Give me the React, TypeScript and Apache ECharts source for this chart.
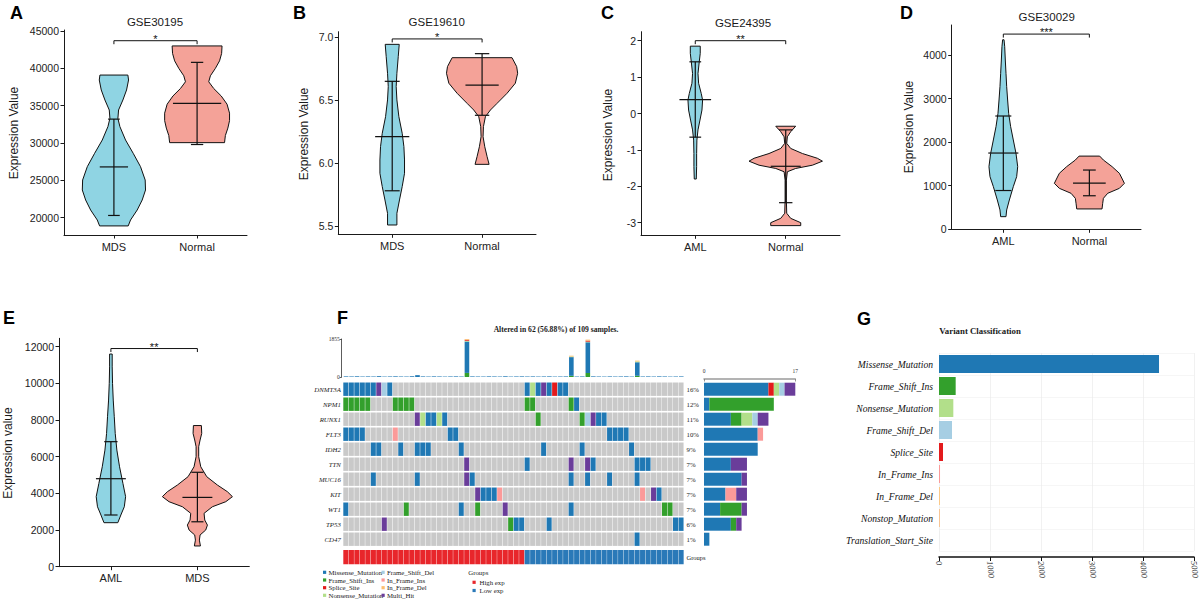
import React, { useEffect, useRef } from 'react';
import * as echarts from 'echarts';

// ================= DATA =================
// ---- Violin panels (outline = [value, half-width in category units]; stats = [lower, mean, upper]) ----
const titleA = 'GSE30195';
const catsA = ['MDS', 'Normal'];
const ticksA = [20000, 25000, 30000, 35000, 40000, 45000];
const outlineA1 = [[39100,0.168],[38440,0.176],[37100,0.152],[35760,0.108],[34420,0.056],[33300,0.048],[32190,0.072],[30400,0.14],[28620,0.232],[26830,0.32],[25050,0.376],[23710,0.38],[22370,0.34],[21030,0.28],[19690,0.2],[18900,0.172]];
const statsA1 = [20300, 26800, 33200];
const outlineA2 = [[43000,0.30],[42000,0.295],[41000,0.27],[40000,0.22],[39000,0.16],[38200,0.14],[37300,0.2],[36300,0.29],[35200,0.36],[34000,0.39],[33000,0.39],[32000,0.37],[31000,0.34],[30050,0.33]];
const statsA2 = [29800, 35300, 40800];
const sigA = ['*', 43700];

const titleB = 'GSE19610';
const catsB = ['MDS', 'Normal'];
const ticksB = [5.5, 6.0, 6.5, 7.0];
const outlineB1 = [[6.944,0.078],[6.846,0.067],[6.714,0.052],[6.608,0.044],[6.502,0.052],[6.369,0.074],[6.237,0.111],[6.131,0.13],[6.025,0.137],[5.919,0.137],[5.813,0.111],[5.707,0.081],[5.601,0.052],[5.508,0.052]];
const statsB1 = [5.78, 6.21, 6.65];
const outlineB2 = [[6.838,0.333],[6.767,0.385],[6.714,0.396],[6.635,0.37],[6.555,0.278],[6.475,0.167],[6.422,0.093],[6.369,0.037],[6.29,0.015],[6.21,0.011],[6.13,0.03],[6.051,0.056],[5.99,0.078]];
const statsB2 = [6.38, 6.62, 6.87];
const sigB = ['*', 6.987];

const titleC = 'GSE24395';
const catsC = ['AML', 'Normal'];
const ticksC = [-3, -2, -1, 0, 1, 2];
const outlineC1 = [[1.85,0.055],[1.652,0.055],[1.42,0.044],[1.10,0.03],[0.83,0.037],[0.55,0.066],[0.37,0.081],[0.095,0.074],[-0.18,0.052],[-0.45,0.03],[-0.73,0.018],[-1.10,0.015],[-1.46,0.015],[-1.80,0.011]];
const statsC1 = [-0.65, 0.38, 1.42];
const outlineC2 = [[-0.35,0.11],[-0.50,0.055],[-0.64,0.018],[-0.82,0.011],[-0.96,0.055],[-1.10,0.185],[-1.23,0.35],[-1.31,0.406],[-1.42,0.295],[-1.51,0.11],[-1.60,0.018],[-1.83,0.007],[-2.38,0.007],[-2.74,0.011],[-2.88,0.055],[-3.0,0.166],[-3.08,0.166]];
const statsC2 = [-2.45, -1.45, -0.45];
const sigC = ['**', 2.0];

const titleD = 'GSE30029';
const catsD = ['AML', 'Normal'];
const ticksD = [0, 1000, 2000, 3000, 4000];
const outlineD1 = [[4350,0.008],[4190,0.016],[3885,0.023],[3580,0.031],[3273,0.039],[2967,0.05],[2661,0.062],[2355,0.085],[2050,0.116],[1744,0.147],[1438,0.167],[1208,0.155],[979,0.116],[673,0.07],[444,0.039],[290,0.031]];
const statsD1 = [890, 1750, 2600];
const outlineD2 = [[1680,0.12],[1590,0.163],[1438,0.264],[1285,0.349],[1132,0.388],[1055,0.407],[940,0.349],[826,0.213],[711,0.163],[597,0.155],[467,0.147]];
const statsD2 = [770, 1060, 1360];
const sigD = ['***', 4480];

const catsE = ['AML', 'MDS'];
const ticksE = [0, 2000, 4000, 6000, 8000, 10000, 12000];
const outlineE1 = [[11600,0.015],[10900,0.015],[10000,0.019],[9090,0.027],[8180,0.039],[7270,0.05],[6360,0.069],[5450,0.1],[4545,0.139],[3820,0.17],[3270,0.155],[2820,0.115],[2400,0.08]];
const statsE1 = [2820, 4800, 6820];
const outlineE2 = [[7700,0.046],[7270,0.05],[6910,0.031],[6545,0.015],[6000,0.015],[5450,0.039],[4910,0.108],[4455,0.231],[4090,0.347],[3820,0.405],[3545,0.328],[3270,0.173],[2910,0.077],[2545,0.085],[2270,0.116],[2000,0.096],[1730,0.031],[1450,0.023],[1130,0.035]];
const statsE2 = [2450, 3780, 5150];
const sigE = ['**', 11900];

// ---- Panel F: oncoplot ----
const oncoTitle = 'Altered in 62 (56.88%) of 109 samples.';
const totalSamples = 109;
const nColumns = 62;
const oncoGenes = ['DNMT3A', 'NPM1', 'RUNX1', 'FLT3', 'IDH2', 'TTN', 'MUC16', 'KIT', 'WT1', 'TP53', 'CD47'];
const typeKeys = ['Mis', 'FSI', 'Spl', 'Non', 'FSD', 'IFI', 'IFD', 'Multi'];
const typeNames = ['Missense_Mutation', 'Frame_Shift_Ins', 'Splice_Site', 'Nonsense_Mutation', 'Frame_Shift_Del', 'In_Frame_Ins', 'In_Frame_Del', 'Multi_Hit'];
const mutDNMT3A = [[0,'Mis'],[1,'Mis'],[2,'Mis'],[3,'Mis'],[4,'Mis'],[5,'Mis'],[6,'Multi'],[7,'FSD'],[8,'Mis'],[33,'Mis'],[34,'Non'],[35,'Mis'],[36,'Multi'],[37,'Mis'],[38,'Spl'],[39,'Mis'],[40,'Mis']];
const mutNPM1 = [[0,'FSI'],[1,'FSI'],[2,'FSI'],[3,'FSI'],[4,'FSI'],[9,'FSI'],[10,'FSI'],[11,'FSI'],[12,'FSI'],[33,'FSI'],[34,'FSI'],[41,'FSI'],[42,'Mis']];
const mutRUNX1 = [[13,'Multi'],[14,'Non'],[15,'Mis'],[16,'Mis'],[17,'Non'],[18,'Mis'],[35,'FSI'],[43,'FSI'],[44,'FSD'],[45,'Multi'],[46,'Mis'],[47,'Mis']];
const mutFLT3 = [[0,'Mis'],[1,'Mis'],[2,'Mis'],[3,'Mis'],[9,'IFI'],[19,'Mis'],[20,'Mis'],[48,'Mis'],[49,'Mis'],[50,'Mis'],[51,'Mis']];
const mutIDH2 = [[5,'Mis'],[6,'Mis'],[10,'Mis'],[13,'Mis'],[14,'Mis'],[15,'Mis'],[21,'Mis'],[36,'Mis'],[43,'Mis'],[52,'Mis']];
const mutTTN = [[22,'Multi'],[33,'Mis'],[41,'Multi'],[44,'Multi'],[45,'Mis'],[53,'Mis'],[54,'Mis'],[55,'Mis']];
const mutMUC16 = [[5,'Mis'],[13,'Mis'],[22,'Multi'],[23,'Mis'],[41,'Mis'],[44,'Mis'],[48,'Mis'],[53,'Mis']];
const mutKIT = [[24,'Multi'],[25,'Mis'],[26,'Mis'],[27,'Mis'],[28,'IFI'],[54,'IFI'],[56,'Multi'],[57,'Mis']];
const mutWT1 = [[0,'Mis'],[11,'FSI'],[21,'Mis'],[24,'FSI'],[29,'Multi'],[41,'Mis'],[58,'FSI'],[59,'FSI']];
const mutTP53 = [[7,'Multi'],[30,'FSI'],[31,'Mis'],[32,'Mis'],[37,'Mis'],[60,'Mis'],[61,'Mis']];
const mutCD47 = [[53,'Mis']];
const oncoMutations = [mutDNMT3A, mutNPM1, mutRUNX1, mutFLT3, mutIDH2, mutTTN, mutMUC16, mutKIT, mutWT1, mutTP53, mutCD47];
const groupNames = ['High exp', 'Low exp'];
const groupHighCount = 33;
const groupLowCount = 29;
// TMB (top bar) per column
const tmbMissense = [30,26,34,22,28,24,40,20,26,32, 24,22,36,90,28,22,30,26,20,26, 30,22,1530,28,24,22,30,26,22,34, 20,26,30,24,28,22,26,30,20,24, 28,910,22,26,1500,30,24,20,28,22, 26,30,20,660,24,28,22,30,26,20, 24,28];
const tmbFrameShiftIns = [[22,200],[41,60],[44,195],[53,60]];
const tmbNonsense = [[22,40],[41,30],[44,30],[53,40]];
const tmbSplice = [[22,45],[44,50]];
const tmbInFrameDel = [[22,40],[41,40],[44,50],[53,40]];
const tmbMax = 1855;
const geneBarMax = 17;

// ---- Panel G: variant classification ----
const variantClasses = ['Missense_Mutation', 'Frame_Shift_Ins', 'Nonsense_Mutation', 'Frame_Shift_Del', 'Splice_Site', 'In_Frame_Ins', 'In_Frame_Del', 'Nonstop_Mutation', 'Translation_Start_Site'];
const variantCounts = [4314, 327, 281, 255, 78, 20, 16, 14, 4];

// ================= STYLE / LAYOUT =================
const SANS = '"Liberation Sans", Arial, Helvetica, sans-serif';
const SERIF = '"Liberation Serif", "Times New Roman", serif';
const INK = '#1a1a1a';
const violinFill = ['#8FD4E3', '#F4A298'];
const typeColors = ['#1F78B4', '#33A02C', '#E31A1C', '#B2DF8A', '#A6CEE3', '#FB9A99', '#FDBF6F', '#6A3D9A'];
const groupColors = ['#E8262B', '#2A79B8'];
const variantColors = ['#1F78B4', '#33A02C', '#B2DF8A', '#A6CEE3', '#E31A1C', '#FB9A99', '#FDBF6F', '#F9B470', '#E3E3E3'];

const violinPanels = [
  { title: titleA, cats: catsA, ticks: ticksA, ylab: 'Expression Value', sig: sigA, violins: [[outlineA1, statsA1], [outlineA2, statsA2]], dec: 0 },
  { title: titleB, cats: catsB, ticks: ticksB, ylab: 'Expression Value', sig: sigB, violins: [[outlineB1, statsB1], [outlineB2, statsB2]], dec: 1 },
  { title: titleC, cats: catsC, ticks: ticksC, ylab: 'Expression Value', sig: sigC, violins: [[outlineC1, statsC1], [outlineC2, statsC2]], dec: 0 },
  { title: titleD, cats: catsD, ticks: ticksD, ylab: 'Expression Value', sig: sigD, violins: [[outlineD1, statsD1], [outlineD2, statsD2]], dec: 0 },
  { title: '', cats: catsE, ticks: ticksE, ylab: 'Expression value', sig: sigE, violins: [[outlineE1, statsE1], [outlineE2, statsE2]], dec: 0 },
];
const violinLayout = [
  { left: 64, right: 247, top: 30, bottom: 235, t1: [45000, 31], t2: [20000, 217.7], titleXY: [155, 22], ylabXY: [14, 133], bars: [[0.17, 0.07], [0.29, 0.074]] },
  { left: 338.3, right: 536, top: 31.7, bottom: 234.3, t1: [7.0, 37.3], t2: [5.5, 226], titleXY: [436.7, 21.7], ylabXY: [304, 134], bars: [[0.19, 0.083], [0.185, 0.08]] },
  { left: 641, right: 840, top: 31.7, bottom: 235.3, t1: [2, 40.7], t2: [-3, 222.7], titleXY: [743, 22.7], ylabXY: [608.3, 135], bars: [[0.175, 0.065], [0.166, 0.074]] },
  { left: 951.7, right: 1141, top: 25, bottom: 229.3, t1: [4000, 55], t2: [0, 229.3], titleXY: [1046.7, 16.7], ylabXY: [909, 127], bars: [[0.175, 0.093], [0.19, 0.074]] },
  { left: 59, right: 249.3, top: 338.3, bottom: 566.7, t1: [12000, 346.7], t2: [0, 566.7], titleXY: [0, 0], ylabXY: [8.3, 453], bars: [[0.173, 0.077], [0.173, 0.07]] },
];
const letters = [['A', 10, 13], ['B', 293, 13], ['C', 601, 13], ['D', 900, 13], ['E', 3, 318], ['F', 337, 318], ['G', 857, 319]];

function yRange(t1: number[], t2: number[], top: number, bottom: number) {
  const [v1, p1] = t1;
  const [v2, p2] = t2;
  const s = (p2 - p1) / (v1 - v2);
  return { max: v1 + (p1 - top) / s, min: v2 - (bottom - p2) / s };
}

function tstyle(text: string, font: string, align: string, va: string, fill = INK) {
  return { text, font, fill, textFill: fill, align, verticalAlign: va, textAlign: align, textVerticalAlign: va };
}

function txt(x: number, y: number, text: string, font: string, align = 'left', va = 'middle', rotation = 0, fill = INK) {
  return { type: 'text', x, y, rotation, style: tstyle(text, font, align, va, fill) };
}

function buildOption() {
  const grid: any[] = [];
  const xAxis: any[] = [];
  const yAxis: any[] = [];
  const series: any[] = [];
  const elements: any[] = [];

  // ---------- violin panels ----------
  violinPanels.forEach((P, g) => {
    const L = violinLayout[g];
    const { min, max } = yRange(L.t1, L.t2, L.top, L.bottom);
    grid.push({ left: L.left, top: L.top, width: L.right - L.left, height: L.bottom - L.top, outerBoundsMode: 'none', containLabel: false });
    xAxis.push({
      gridIndex: g, type: 'value', min: 0.4, max: 2.6, splitLine: { show: false },
      axisLine: { show: true, onZero: false, lineStyle: { color: INK, width: 1 } },
      axisTick: { show: true, customValues: [1, 2], length: 3.5, lineStyle: { color: INK, width: 1 } },
      axisLabel: { customValues: [1, 2], formatter: (v: number) => P.cats[Math.round(v) - 1], color: '#222', fontSize: 11, fontFamily: SANS, margin: 6 },
    });
    yAxis.push({
      gridIndex: g, type: 'value', min, max, splitLine: { show: false },
      axisLine: { show: true, onZero: false, lineStyle: { color: INK, width: 1 } },
      axisTick: { show: true, customValues: P.ticks, length: 3.5, lineStyle: { color: INK, width: 1 } },
      axisLabel: { customValues: P.ticks, formatter: (v: number) => v.toFixed(P.dec), color: '#222', fontSize: 10.5, fontFamily: SANS, margin: 5 },
    });
    series.push({
      type: 'custom', xAxisIndex: g, yAxisIndex: g, silent: true, clip: false,
      data: P.violins.map((_, i) => [i, 0]),
      renderItem: (params: any, api: any) => {
        const i = api.value(0) as number;
        const [outline, stats] = P.violins[i] as any;
        const cx = i + 1;
        const pts: number[][] = [];
        (outline as number[][]).forEach(([y, w]) => pts.push(api.coord([cx - w, y])));
        for (let k = outline.length - 1; k >= 0; k--) {
          const [y, w] = outline[k];
          pts.push(api.coord([cx + w, y]));
        }
        const [lo, mean, hi] = stats;
        const [mw, cw] = L.bars[i];
        const seg = (x1: number, x2: number, y1: number, y2: number) => {
          const a = api.coord([x1, y1]);
          const b = api.coord([x2, y2]);
          return { type: 'line', shape: { x1: a[0], y1: a[1], x2: b[0], y2: b[1] }, style: { stroke: '#111', lineWidth: 1.2 } };
        };
        return {
          type: 'group',
          children: [
            { type: 'polygon', shape: { points: pts }, style: { fill: violinFill[i], stroke: '#111', lineWidth: 1 } },
            seg(cx, cx, lo, hi),
            seg(cx - mw, cx + mw, mean, mean),
            seg(cx - cw, cx + cw, hi, hi),
            seg(cx - cw, cx + cw, lo, lo),
          ],
        };
      },
    });
    series.push({
      type: 'custom', xAxisIndex: g, yAxisIndex: g, silent: true, clip: false,
      data: [[1.5, P.sig[1]]],
      renderItem: (params: any, api: any) => {
        const yv = P.sig[1] as number;
        const a = api.coord([1, yv]);
        const b = api.coord([2, yv]);
        return {
          type: 'group',
          children: [
            { type: 'polyline', shape: { points: [[a[0], a[1] + 3.5], [a[0], a[1]], [b[0], b[1]], [b[0], b[1] + 3.5]] }, style: { stroke: '#111', lineWidth: 1, fill: null } },
            { type: 'text', x: (a[0] + b[0]) / 2, y: a[1] - 1.8, style: tstyle(P.sig[0] as string, `11px ${SANS}`, 'center', 'middle', '#111') },
          ],
        };
      },
    });
    if (P.title) elements.push(txt(L.titleXY[0], L.titleXY[1], P.title, `11.5px ${SANS}`, 'center'));
    elements.push(txt(L.ylabXY[0], L.ylabXY[1], P.ylab, `12px ${SANS}`, 'center', 'middle', Math.PI / 2));
  });

  // ---------- Panel F: oncoplot matrix ----------
  const gM = 5;
  const rowsMax = 12.17;
  grid.push({ left: 343.3, top: 381.7, width: 340.7, height: rowsMax * 15, outerBoundsMode: 'none' });
  xAxis.push({ gridIndex: gM, type: 'value', min: 0, max: nColumns, show: false });
  yAxis.push({ gridIndex: gM, type: 'value', min: 0, max: rowsMax, inverse: true, show: false });
  const cellData: number[][] = [];
  oncoMutations.forEach((muts, r) => {
    const byCol: Record<number, number> = {};
    muts.forEach(([c, t]) => { byCol[c as number] = typeKeys.indexOf(t as string); });
    for (let c = 0; c < nColumns; c++) cellData.push([c, r, byCol[c] === undefined ? -1 : byCol[c]]);
  });
  series.push({
    type: 'custom', xAxisIndex: gM, yAxisIndex: gM, silent: true, clip: false, data: cellData,
    renderItem: (params: any, api: any) => {
      const c = api.value(0), r = api.value(1), t = api.value(2);
      const p0 = api.coord([c, r]);
      const p1 = api.coord([c + 1, r + 1]);
      return { type: 'rect', shape: { x: p0[0], y: p0[1] + 0.8, width: p1[0] - p0[0] - 0.45, height: p1[1] - p0[1] - 1.6 }, style: { fill: t < 0 ? '#C9C9C9' : typeColors[t] } };
    },
  });
  const sampleGroups = [...Array(groupHighCount).fill(0), ...Array(groupLowCount).fill(1)];
  series.push({
    type: 'custom', xAxisIndex: gM, yAxisIndex: gM, silent: true, clip: false,
    data: sampleGroups.map((gI, c) => [c, 11.22, gI]),
    renderItem: (params: any, api: any) => {
      const c = api.value(0), gI = api.value(2);
      const p0 = api.coord([c, 11.22]);
      const p1 = api.coord([c + 1, rowsMax]);
      return { type: 'rect', shape: { x: p0[0], y: p0[1], width: p1[0] - p0[0] - 0.35, height: p1[1] - p0[1] }, style: { fill: groupColors[gI] } };
    },
  });
  // gene labels + percentages
  const geneCounts = oncoMutations.map((m) => m.length);
  series.push({
    type: 'custom', xAxisIndex: gM, yAxisIndex: gM, silent: true, clip: false,
    data: oncoGenes.map((_, i) => [0, i]).concat([[0, 11]]),
    renderItem: (params: any, api: any) => {
      const r = api.value(1);
      if (r === 11) {
        const p = api.coord([nColumns, 11.7]);
        return { type: 'text', x: p[0] + 2.5, y: p[1], style: tstyle('Groups', `6.5px ${SERIF}`, 'left', 'middle') };
      }
      const a = api.coord([0, r + 0.5]);
      const b = api.coord([nColumns, r + 0.5]);
      const pct = Math.round((geneCounts[r] / totalSamples) * 100) + '%';
      return {
        type: 'group',
        children: [
          { type: 'text', x: a[0] - 2.5, y: a[1], style: tstyle(oncoGenes[r], `italic 6.8px ${SERIF}`, 'right', 'middle') },
          { type: 'text', x: b[0] + 2.5, y: b[1], style: tstyle(pct, `6.8px ${SERIF}`, 'left', 'middle') },
        ],
      };
    },
  });

  // ---------- TMB top bars ----------
  const gT = 6;
  grid.push({ left: 343.3, top: 339, width: 340.7, height: 38, outerBoundsMode: 'none' });
  xAxis.push({ gridIndex: gT, type: 'category', data: tmbMissense.map((_, i) => String(i)), show: false, boundaryGap: true });
  yAxis.push({
    gridIndex: gT, type: 'value', min: 0, max: tmbMax, offset: 1.6, splitLine: { show: false },
    axisLine: { show: true, lineStyle: { color: '#333', width: 0.8 } },
    axisTick: { show: true, customValues: [0, tmbMax], length: 2, lineStyle: { color: '#333', width: 0.8 } },
    axisLabel: { customValues: [0, tmbMax], formatter: (v: number) => String(Math.round(v)), fontSize: 5.5, fontFamily: SERIF, color: '#333', margin: 2 },
  });
  const dense = (sparse: number[][]) => {
    const arr = tmbMissense.map(() => 0);
    sparse.forEach(([c, v]) => { arr[c] = v; });
    return arr;
  };
  const tmbLayers: [number[], string][] = [
    [dense(tmbFrameShiftIns), typeColors[1]],
    [tmbMissense, typeColors[0]],
    [dense(tmbNonsense), typeColors[3]],
    [dense(tmbSplice), typeColors[2]],
    [dense(tmbInFrameDel), typeColors[6]],
  ];
  tmbLayers.forEach(([d, col]) => {
    series.push({ type: 'bar', xAxisIndex: gT, yAxisIndex: gT, stack: 'tmb', data: d, barWidth: 4.6, silent: true, itemStyle: { color: col } });
  });

  // ---------- Right gene bars ----------
  const gR = 7;
  grid.push({ left: 704, top: 381.7, width: 91.3, height: 165, outerBoundsMode: 'none' });
  xAxis.push({
    gridIndex: gR, type: 'value', min: 0, max: geneBarMax, position: 'top', offset: 2.7, splitLine: { show: false },
    axisLine: { show: true, lineStyle: { color: '#9a9a9a', width: 1.5 } },
    axisTick: { show: true, inside: true, customValues: [0, geneBarMax], length: 2.5, lineStyle: { color: '#777', width: 0.8 } },
    axisLabel: { customValues: [0, geneBarMax], fontSize: 5.5, fontFamily: SERIF, color: '#333', margin: 5 },
  });
  yAxis.push({ gridIndex: gR, type: 'category', data: oncoGenes, inverse: true, show: false });
  typeKeys.forEach((k, ti) => {
    const d = oncoMutations.map((m) => m.filter(([, t]) => t === k).length);
    series.push({ type: 'bar', xAxisIndex: gR, yAxisIndex: gR, stack: 'genes', data: d, barWidth: 13, silent: true, itemStyle: { color: typeColors[ti] } });
  });

  // ---------- Panel G ----------
  const gG = 8;
  grid.push({ left: 939, top: 353, width: 255, height: 198, outerBoundsMode: 'none' });
  xAxis.push({
    gridIndex: gG, type: 'value', min: 0, max: 5000, interval: 1000, offset: 6,
    splitLine: { show: true, lineStyle: { color: '#EBEBEB', width: 0.7 } },
    axisLine: { show: true, lineStyle: { color: '#111', width: 1.5 } },
    axisTick: { show: true, length: 4, lineStyle: { color: '#111', width: 1 } },
    axisLabel: { rotate: -84, formatter: (v: number) => String(v), fontSize: 8.5, fontFamily: SERIF, fontStyle: 'italic', color: '#333', margin: 4 },
  });
  yAxis.push({
    gridIndex: gG, type: 'category', data: variantClasses, inverse: true,
    axisLine: { show: false }, axisTick: { show: false },
    splitLine: { show: true, lineStyle: { color: '#F2F2F2', width: 0.7 } },
    axisLabel: { fontSize: 9.6, fontFamily: SERIF, fontStyle: 'italic', color: '#111', margin: 6 },
  });
  series.push({
    type: 'bar', xAxisIndex: gG, yAxisIndex: gG, barWidth: 18, silent: true,
    data: variantCounts.map((v, i) => ({ value: v, itemStyle: { color: variantColors[i] } })),
  });

  // ---------- texts / legends (pixel-placed annotation layer) ----------
  letters.forEach(([t, x, y]) => elements.push(txt(x as number, y as number, t as string, `bold 18px ${SANS}`, 'left', 'middle', 0, '#000')));
  elements.push(txt(556, 329.3, oncoTitle, `bold 7.6px ${SERIF}`, 'center'));
  elements.push(txt(939.3, 330.7, 'Variant Classification', `bold 8.8px ${SERIF}`, 'left'));
  const legRows = [572.3, 580, 587.7, 595.3];
  typeNames.forEach((name, i) => {
    const col = Math.floor(i / 4);
    const row = i % 4;
    const mx = col === 0 ? 323 : 381.5;
    elements.push({ type: 'rect', shape: { x: mx, y: legRows[row] - 1.6, width: 3.2, height: 3.2 }, style: { fill: typeColors[i] } });
    elements.push(txt(mx + 5.5, legRows[row], name, `6.8px ${SERIF}`, 'left'));
  });
  elements.push(txt(468.3, 572.3, 'Groups', `6.8px ${SERIF}`, 'left'));
  groupNames.forEach((name, i) => {
    const y = [582.3, 590.5][i];
    elements.push({ type: 'rect', shape: { x: 472.5, y: y - 1.6, width: 3.2, height: 3.2 }, style: { fill: groupColors[i] } });
    elements.push(txt(479.5, y, name, `6.8px ${SERIF}`, 'left'));
  });
  series.push({
    type: 'custom', coordinateSystem: 'none', silent: true, data: [[0]],
    renderItem: () => ({ type: 'group', children: elements }),
  });

  return {
    animation: false,
    backgroundColor: '#ffffff',
    tooltip: { show: false },
    grid, xAxis, yAxis, series,
  };
}

export default function App() {
  const ref = useRef<HTMLDivElement>(null);
  useEffect(() => {
    document.body.style.margin = '0';
    const chart = echarts.init(ref.current as HTMLDivElement, null, { renderer: 'svg' });
    chart.setOption(buildOption() as any);
    return () => chart.dispose();
  }, []);
  return (
    <div style={{ position: 'fixed', left: 0, top: 0, width: 1200, height: 600, background: '#fff' }}>
      <div ref={ref} style={{ width: 1200, height: 600 }} />
    </div>
  );
}
